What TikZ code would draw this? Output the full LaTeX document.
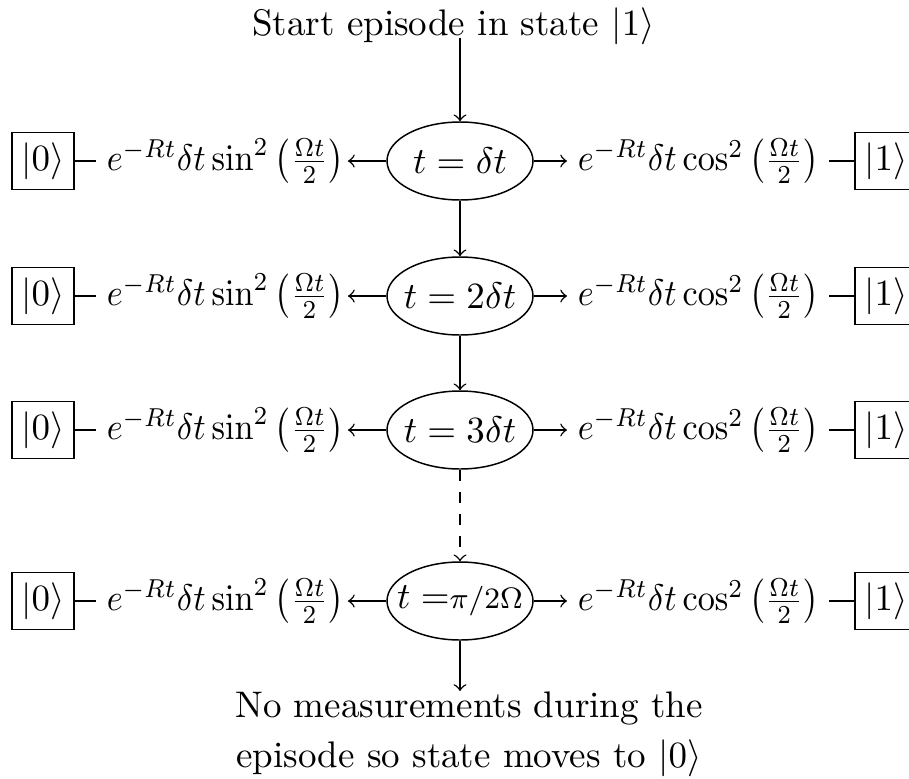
\documentclass[tikz,border=0pt]{standalone}
\usepackage{graphicx}
\usetikzlibrary{shapes.geometric}
\newcommand{\probsin}{\scalebox{0.926}[1]{$e^{-Rt}\delta t\sin^2\left(\frac{\Omega t}{2}\right)$}}
\newcommand{\probcos}{\scalebox{0.926}[1]{$e^{-Rt}\delta t\cos^2\left(\frac{\Omega t}{2}\right)$}}
\begin{document}
\begin{tikzpicture}[x=0.27027pt,y=-0.27027pt,>=to,
  tstate/.style={draw, ellipse, minimum width=39.46pt, minimum height=21.08pt, inner sep=0pt},
  ket/.style={draw, inner sep=0pt, minimum width=16.76pt, minimum height=15.4pt},
  prob/.style={inner xsep=0pt, inner ysep=1pt},
  plain/.style={inner sep=0pt}]
\useasboundingbox (0,0) rectangle (909,778);
\node[plain, anchor=base] (title) at (453.5,35) {Start episode in state $|1\rangle$};
\coordinate (ts) at (460,38);
\node[tstate] (e1) at (460,161) {\makebox[0pt]{$t = \delta t$}};
\node[tstate] (e2) at (460,296) {\makebox[0pt]{$t = 2\delta t$}};
\node[tstate] (e3) at (460,430) {\makebox[0pt]{$t = 3\delta t$}};
\node[tstate] (e4) at (460,601) {\makebox[0pt]{$t =${\footnotesize$\pi/2\Omega$}}};
\foreach \i/\y in {1/161,2/296,3/430,4/601}{
  \node[prob, anchor=east] (l\i) at (345,\y) {\probsin};
  \node[prob, anchor=west] (r\i) at (577,\y) {\probcos};
  \node[ket] (k0\i) at (43,\y) {$|0\rangle$};
  \node[ket] (k1\i) at (886,\y) {$|1\rangle$};
  \draw[->, shorten >=0.8pt] (e\i) -- (l\i);
  \draw[->, shorten >=2.7pt] (e\i) -- (r\i);
  \draw[shorten <=2.7pt] (l\i) -- (k0\i);
  \draw[shorten <=2.5pt] (r\i) -- (k1\i);
}
\node[plain, anchor=north, align=center] (bt) at (469,691) {No measurements during the\\[1.5pt] episode so state moves to $|0\rangle$};
\draw[->] (ts) -- (e1);
\draw[->] (e1) -- (e2);
\draw[->] (e2) -- (e3);
\draw[->, dashed] (e3) -- (e4);
\draw[->] (e4) -- (e4 |- bt.north);
\end{tikzpicture}
\end{document}
